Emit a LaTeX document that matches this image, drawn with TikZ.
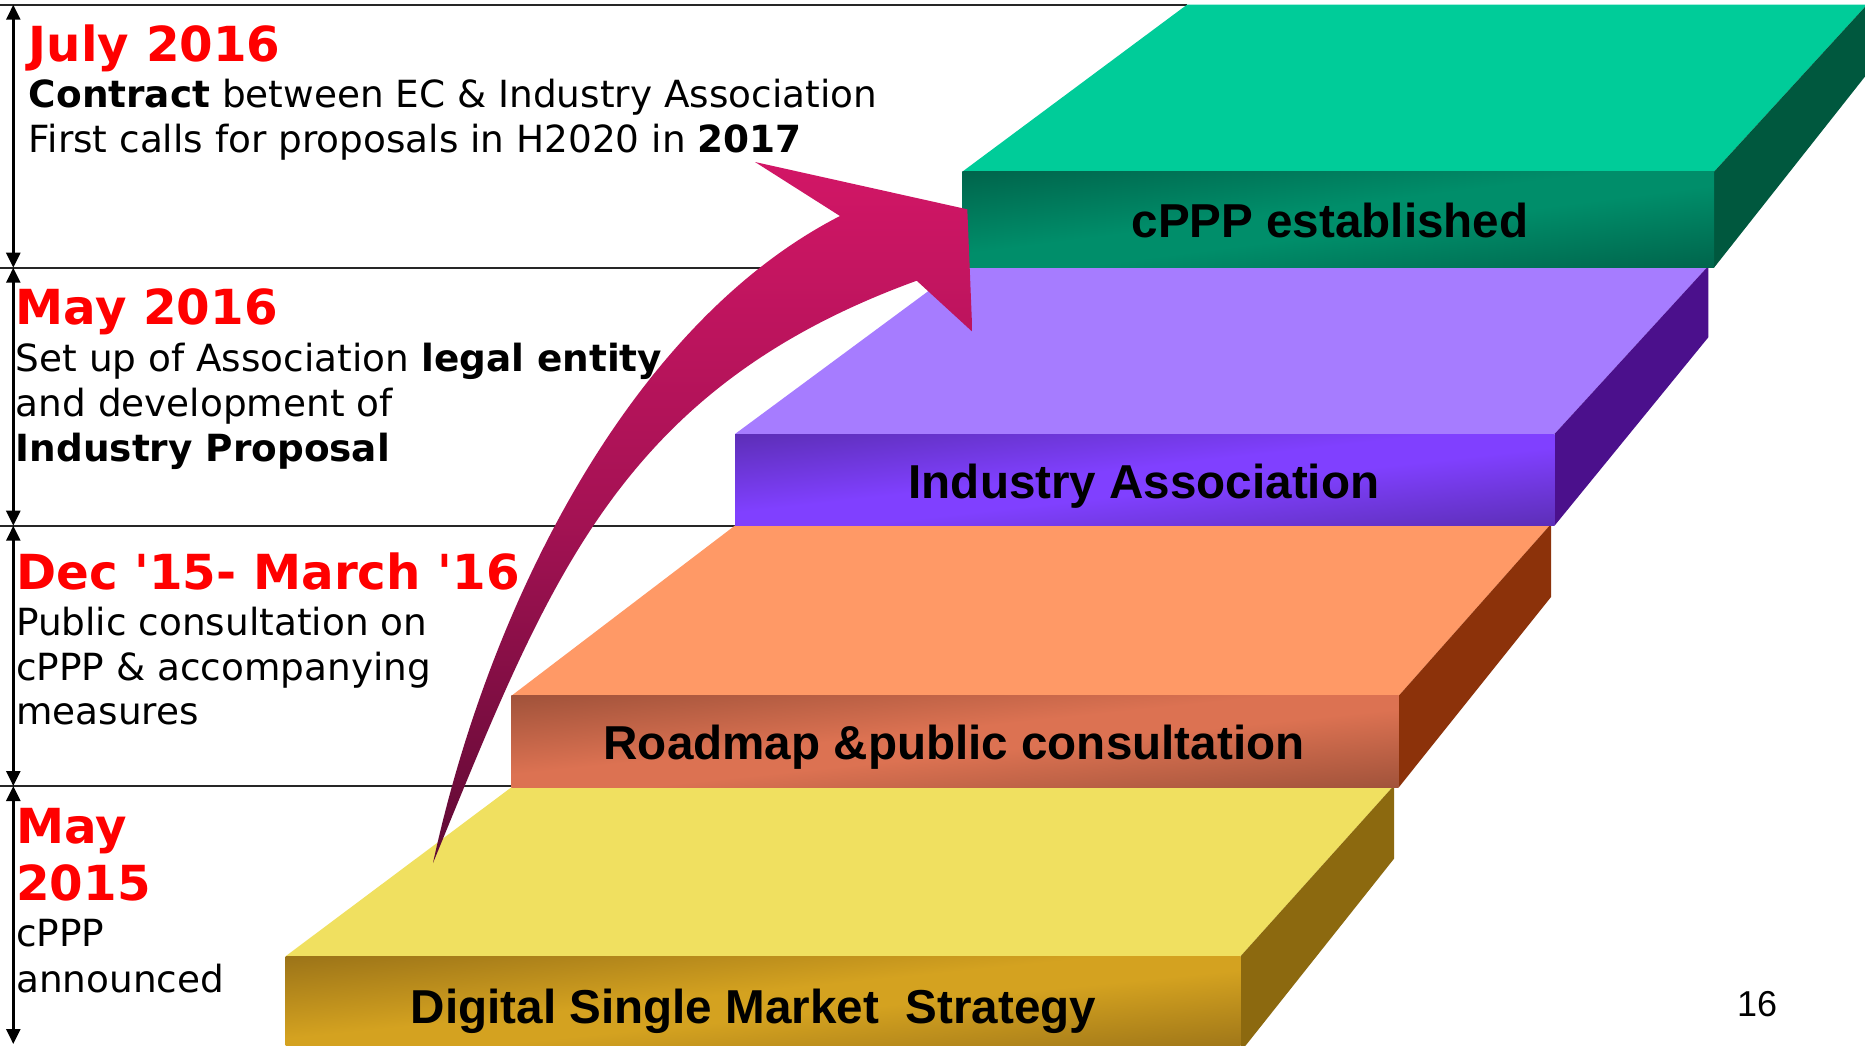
\documentclass[tikz,border=0pt]{standalone}
\usepackage{fontspec}
\usetikzlibrary{arrows.meta}
\newfontfamily\dv{DejaVu Sans}
\newfontfamily\lib{Liberation Sans}
\definecolor{hdred}{RGB}{255,0,0}
\definecolor{gTop}{RGB}{0,204,153}
\definecolor{gDk}{RGB}{0,100,75}
\definecolor{gLt}{RGB}{0,142,106}
\definecolor{gSide}{RGB}{0,88,62}
\definecolor{pTop}{RGB}{166,124,255}
\definecolor{pDk}{RGB}{92,46,182}
\definecolor{pLt}{RGB}{128,64,255}
\definecolor{pSide}{RGB}{75,16,140}
\definecolor{oTop}{RGB}{255,153,102}
\definecolor{oDk}{RGB}{160,82,58}
\definecolor{oLt}{RGB}{220,114,82}
\definecolor{oSide}{RGB}{140,50,10}
\definecolor{yTop}{RGB}{240,224,96}
\definecolor{yDk}{RGB}{155,115,24}
\definecolor{yLt}{RGB}{212,162,32}
\definecolor{ySide}{RGB}{140,105,15}
\definecolor{arTop}{RGB}{210,22,102}
\definecolor{arMid}{RGB}{165,18,84}
\definecolor{arBot}{RGB}{95,10,52}
\pgfdeclareverticalshading{yShade}{100bp}{color(0bp)=(yDk); color(14bp)=(yDk); color(45bp)=(yLt); color(55bp)=(yLt); color(86bp)=(yDk); color(100bp)=(yDk)}
\pgfdeclareverticalshading{oShade}{100bp}{color(0bp)=(oDk); color(14bp)=(oDk); color(45bp)=(oLt); color(55bp)=(oLt); color(86bp)=(oDk); color(100bp)=(oDk)}
\pgfdeclareverticalshading{pShade}{100bp}{color(0bp)=(pDk); color(14bp)=(pDk); color(45bp)=(pLt); color(55bp)=(pLt); color(86bp)=(pDk); color(100bp)=(pDk)}
\pgfdeclareverticalshading{gShade}{100bp}{color(0bp)=(gDk); color(14bp)=(gDk); color(45bp)=(gLt); color(55bp)=(gLt); color(86bp)=(gDk); color(100bp)=(gDk)}
% #1 shading, #2 left, #3 top, #4 right, #5 bottom
\newcommand{\frontface}[5]{%
  \begin{scope}[transform canvas={shift={(#2,#5)}, xscale={(#4-#2)/100}, yscale={(#5-#3)/100}}]
    \shade[shading=#1, shading angle=45] (0,0) rectangle (100,-100);
  \end{scope}}
\begin{document}
\begin{tikzpicture}[x=1pt,y=-1pt,
  sep/.style={line width=2pt, draw=black!85},
  axis/.style={line width=2.4pt, draw=black, {Triangle[length=15pt,width=14pt]}-{Triangle[length=15pt,width=14pt]}},
  hd/.style={anchor=base west, inner sep=0pt, text=hdred, font=\dv\bfseries\fontsize{48.3}{57}\selectfont},
  bd/.style={anchor=base west, inner sep=0pt, font=\dv\fontsize{37.4}{45}\selectfont},
  lbl/.style={anchor=base, inner sep=0pt, font=\lib\bfseries\fontsize{47.6}{50}\selectfont},
]
\useasboundingbox (0,0) rectangle (1865,1045);
\fill[white] (0,0) rectangle (1865,1045);
\clip (0,0) rectangle (1865,1045);

% separator lines
\draw[sep] (0,4.7) -- (1187,4.7);
\draw[sep] (0,267.7) -- (962,267.7);
\draw[sep] (0,525.7) -- (735,525.7);
\draw[sep] (0,786) -- (511.4,786);

% axis coordinates
\coordinate (a0) at (13.3,4.7);
\coordinate (a1) at (13.3,267.7);
\coordinate (a2) at (13.3,525.7);
\coordinate (a3) at (13.3,786);
\coordinate (a4) at (13.3,1044);
\draw[axis] (a0) -- (a1);
\draw[axis] (a1) -- (a2);
\draw[axis] (a2) -- (a3);
\draw[axis] (a3) -- (a4);

% yellow slab
\fill[yTop] (285.5,956.3) -- (1240.5,956.3) -- (1394,785.5) -- (513.8,785.5) -- cycle;
\fill[ySide] (1240.5,956.3) -- (1394,785.5) -- (1394,858.7) -- (1240.5,1052) -- cycle;
\frontface{yShade}{285.5}{956.3}{1240.5}{1052}
% orange slab
\fill[oTop] (511.4,695.8) -- (1398.7,695.8) -- (1551,524) -- (737,524) -- cycle;
\fill[oSide] (1398.7,695.8) -- (1551,524) -- (1551,597) -- (1398.7,787.4) -- cycle;
\frontface{oShade}{511.4}{695.8}{1398.7}{787.4}
% purple slab
\fill[pTop] (735,434) -- (1554.5,434) -- (1708.3,266) -- (962.3,266) -- cycle;
\fill[pSide] (1554.5,434) -- (1708.3,266) -- (1708.3,337.3) -- (1554.5,525.7) -- cycle;
\frontface{pShade}{735}{434}{1554.5}{525.7}
% green slab
\fill[gTop] (962.3,171.7) -- (1714,171.7) -- (1867,4.7) -- (1187,4.7) -- cycle;
\fill[gSide] (1714,171.7) -- (1867,4.7) -- (1867,74) -- (1714,267.7) -- cycle;
\frontface{gShade}{962.3}{171.7}{1714}{267.7}

% slab labels
\node[lbl] (l1) at (1330,237.6) {cPPP established};
\node[lbl] (l2) at (1144,498.3) {Industry Association};
\node[lbl] (l3) at (954,759) {Roadmap \&public consultation};
\node[lbl] (l4) at (753.5,1023) {Digital Single Market~~Strategy};

% big arrow
\coordinate (tail) at (433,863);
\coordinate (notch) at (840,216);
\coordinate (barb) at (755,162);
\coordinate (hr1) at (967.3,209.3);
\coordinate (hr2) at (972.3,331.7);
\coordinate (junc) at (916.7,280.7);
\shade[top color=arTop, bottom color=arBot, middle color=arMid]
  (tail) .. controls (489,604) and (631,323) .. (notch) -- (barb) -- (hr1) -- (hr2) -- (junc)
  .. controls (616,390) and (547,586) .. (tail) -- cycle;

% text block 1
\node[hd] (h1) at (28.7,61.7) {July 2016};
\node[bd] (t1a) at (28.7,107.3) {{\bfseries Contract} between EC \& Industry Association};
\node[bd] (t1b) at (28.7,152.7) {First calls for proposals in H2020 in {\bfseries 2017}};
% block 2
\node[hd] (h2) at (15.6,324) {May 2016};
\node[bd] (t2a) at (15.6,371) {Set up of Association {\bfseries legal entity}};
\node[bd] (t2b) at (15.6,416) {and development of};
\node[bd] (t2c) at (15.6,461.7) {\bfseries Industry Proposal};
% block 3
\node[hd] (h3) at (16,589.3) {Dec '15- March '16};
\node[bd] (t3a) at (16,635.5) {Public consultation on};
\node[bd] (t3b) at (16,680.7) {cPPP \& accompanying};
\node[bd] (t3c) at (16,724.2) {measures};
% block 4
\node[hd] (h4a) at (16,843) {May};
\node[hd] (h4b) at (16,900.6) {2015};
\node[bd] (t4a) at (16,946.8) {cPPP};
\node[bd] (t4b) at (16,992) {announced};

% page number
\node[anchor=base west, inner sep=0pt, font=\lib\fontsize{36}{40}\selectfont] (pg) at (1737,1016.7) {16};
\end{tikzpicture}
\end{document}
